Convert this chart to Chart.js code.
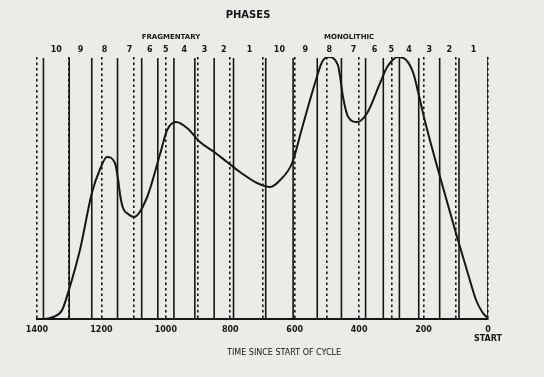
<!DOCTYPE html>
<html>
<head>
<meta charset="utf-8">
<script src="https://cdn.jsdelivr.net/npm/chart.js@4.4.1/dist/chart.umd.min.js"></script>
<style>
    html, body { margin: 0; padding: 0; background: #ecebe8; }
    #wrap { width: 544px; height: 377px; }
</style>
</head>
<body>
<div id="wrap"><canvas id="phaseChart" width="544" height="377"></canvas></div>
<script>
// time since start of cycle, and height of the curve above the baseline
const curveTime = [1400, 1381, 1350, 1322, 1301, 1266, 1229, 1204, 1183, 1158, 1148, 1142, 1133, 1117, 1099,
    1058, 1018, 996, 968, 934, 894, 850, 810, 770, 717, 676, 645, 608, 578, 537, 515, 496,
    466, 459, 450, 434, 406, 375, 335, 313, 279, 254, 232, 217, 195, 148, 96, 61, 37, 18, 2, 0];
const curveHeight = [0, 0, 2, 9, 29, 70, 127, 150, 162, 156, 139, 124, 111, 105, 102,
    122, 165, 189, 197, 191, 177, 167, 157, 147, 136, 132, 139, 156, 190, 236, 257, 262,
    254, 242, 222, 202, 197, 206, 236, 252, 262, 259, 246, 227, 197, 141, 82, 44, 19, 7, 1, 0];

// phase boundaries (solid lines), phase numbers between them
const phaseBounds = [1380, 1300, 1230, 1150, 1075, 1025, 975, 910, 850, 790,
    690, 605, 530, 455, 380, 325, 275, 215, 150, 90, 0];
const phaseNumbers = ['10', '9', '8', '7', '6', '5', '4', '3', '2', '1',
    '10', '9', '8', '7', '6', '5', '4', '3', '2', '1'];
const cycleNames = ['FRAGMENTARY', 'MONOLITHIC'];
const cycleCentres = [984, 431];

const labelledTicks = [1400, 1200, 1000, 800, 600, 400, 200, 0];
const gridStep = 100;

const ink = '#161616';
const yTop = 262;
const boundTop = 261;

const boundaryPoints = [];
phaseBounds.forEach(function(b) {
    boundaryPoints.push({ x: b, y: 0 }, { x: b, y: boundTop }, { x: b, y: null });
});

// text above and below the plot
const phaseText = {
    id: 'phaseText',
    afterDraw: function(chart) {
        const ctx = chart.ctx;
        const xs = chart.scales.x;
        ctx.save();
        ctx.fillStyle = ink;
        ctx.textAlign = 'center';
        ctx.textBaseline = 'middle';

        ctx.font = 'bold 10px "DejaVu Sans"';
        ctx.fillText('PHASES', xs.getPixelForValue(745), 15);

        ctx.font = 'bold 7px "DejaVu Sans"';
        cycleNames.forEach(function(name, i) {
            ctx.fillText(name, xs.getPixelForValue(cycleCentres[i]), 37);
        });

        ctx.font = 'bold 8px "DejaVu Sans"';
        phaseNumbers.forEach(function(n, i) {
            const mid = (phaseBounds[i] + phaseBounds[i + 1]) / 2;
            ctx.fillText(n, xs.getPixelForValue(mid), 50);
        });

        ctx.font = '8px "DejaVu Sans"';
        ctx.fillText('TIME SINCE START OF CYCLE', xs.getPixelForValue(633), 353);
        ctx.restore();
    }
};

const ctx = document.getElementById('phaseChart').getContext('2d');
new Chart(ctx, {
    type: 'line',
    data: {
        datasets: [{
            label: 'curve',
            data: curveTime.map((t, i) => ({ x: t, y: curveHeight[i] })),
            borderColor: ink,
            borderWidth: 2,
            pointRadius: 0,
            cubicInterpolationMode: 'monotone',
            fill: false
        }, {
            label: 'phase bounds',
            data: boundaryPoints,
            borderColor: ink,
            borderWidth: 1.6,
            pointRadius: 0,
            tension: 0,
            spanGaps: false,
            fill: false
        }]
    },
    options: {
        responsive: false,
        animation: false,
        layout: {
            padding: { left: 37, right: 56, top: 57, bottom: 0 }
        },
        plugins: {
            legend: { display: false },
            tooltip: { enabled: false },
            title: { display: false }
        },
        scales: {
            x: {
                type: 'linear',
                reverse: true,
                min: 0,
                max: 1400,
                ticks: {
                    stepSize: gridStep,
                    autoSkip: false,
                    maxRotation: 0,
                    padding: 6,
                    color: ink,
                    font: { family: 'DejaVu Sans', size: 8, weight: 'bold', lineHeight: 1.2 },
                    callback: function(v) {
                        if (!labelledTicks.includes(v)) return '';
                        return v === 0 ? ['0', 'START'] : String(v);
                    }
                },
                grid: {
                    color: ink,
                    lineWidth: 1.6,
                    drawTicks: false
                },
                border: {
                    display: true,
                    color: ink,
                    width: 2,
                    dash: [2.5, 3]
                },
                afterFit: function(scale) {
                    scale.height = 58;
                }
            },
            y: {
                display: false,
                min: 0,
                max: yTop
            }
        }
    },
    plugins: [phaseText]
});
</script>
</body>
</html>
